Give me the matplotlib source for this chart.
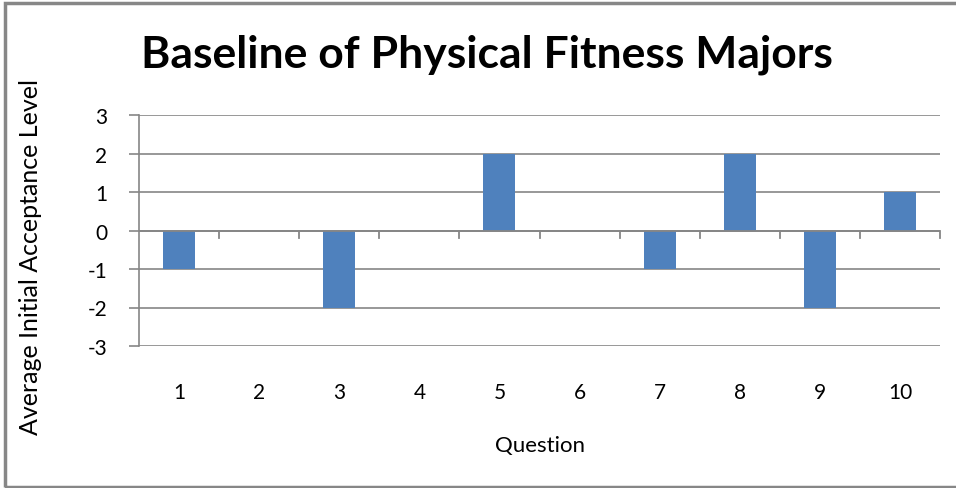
import matplotlib
matplotlib.use("Agg")
import matplotlib.pyplot as plt
from matplotlib.patches import Rectangle

categories = ["1", "2", "3", "4", "5", "6", "7", "8", "9", "10"]
values = [-1, 0, -2, 0, 2, 0, -1, 2, -2, 1]
yticks = [-3, -2, -1, 0, 1, 2, 3]
title = "Baseline of Physical Fitness Majors"
xlabel = "Question"
ylabel = "Average Initial Acceptance Level"

grid_col = "#868686"
bar_col = "#4F81BD"
font = ["Lato", "DejaVu Sans"]

fig = plt.figure(figsize=(9.56, 4.89), dpi=100)
ax = fig.add_axes([139/956, 1-347/489, (940-139)/956, (347-116)/489])

x = list(range(len(categories)))
ax.bar(x, values, width=0.4, color=bar_col, zorder=3)
ax.set_xlim(-0.5, len(categories)-0.5)
ax.set_ylim(-3, 3)
ax.set_yticks(yticks)
ax.set_yticklabels([str(v) for v in yticks], fontfamily=font, fontsize=15)
ax.yaxis.grid(True, color=grid_col, linewidth=1.2, zorder=0)
ax.tick_params(axis="y", length=7, color=grid_col, width=1.2, pad=16)

ax.set_xticks(x)
ax.set_xticklabels(categories, fontfamily=font, fontsize=15)
ax.tick_params(axis="x", length=0, pad=26)
for b in [i + 0.5 for i in x]:
    ax.plot([b, b], [0, -0.2], color=grid_col, linewidth=1.3, zorder=4, clip_on=False)
ax.axhline(0, color=grid_col, linewidth=1.3, zorder=4)

for s in ["top", "right", "bottom"]:
    ax.spines[s].set_visible(False)
ax.spines["left"].set_color(grid_col)
ax.spines["left"].set_linewidth(1.2)

ax.set_xlabel(xlabel, fontfamily=font, fontsize=16, labelpad=24)
ax.set_ylabel(ylabel, fontfamily=font, fontsize=18, va="center")
ax.yaxis.set_label_coords(-0.136, 0.39)

fig.text(487/956, 1-55/489, title, ha="center", va="center",
         fontfamily=font, fontweight="bold", fontsize=32)

fig.patches.append(Rectangle((5/956, 1/489), 1.02, 484/489, transform=fig.transFigure,
                             fill=False, edgecolor="#878787", linewidth=2.5))

fig.savefig("out.png", dpi=100)
